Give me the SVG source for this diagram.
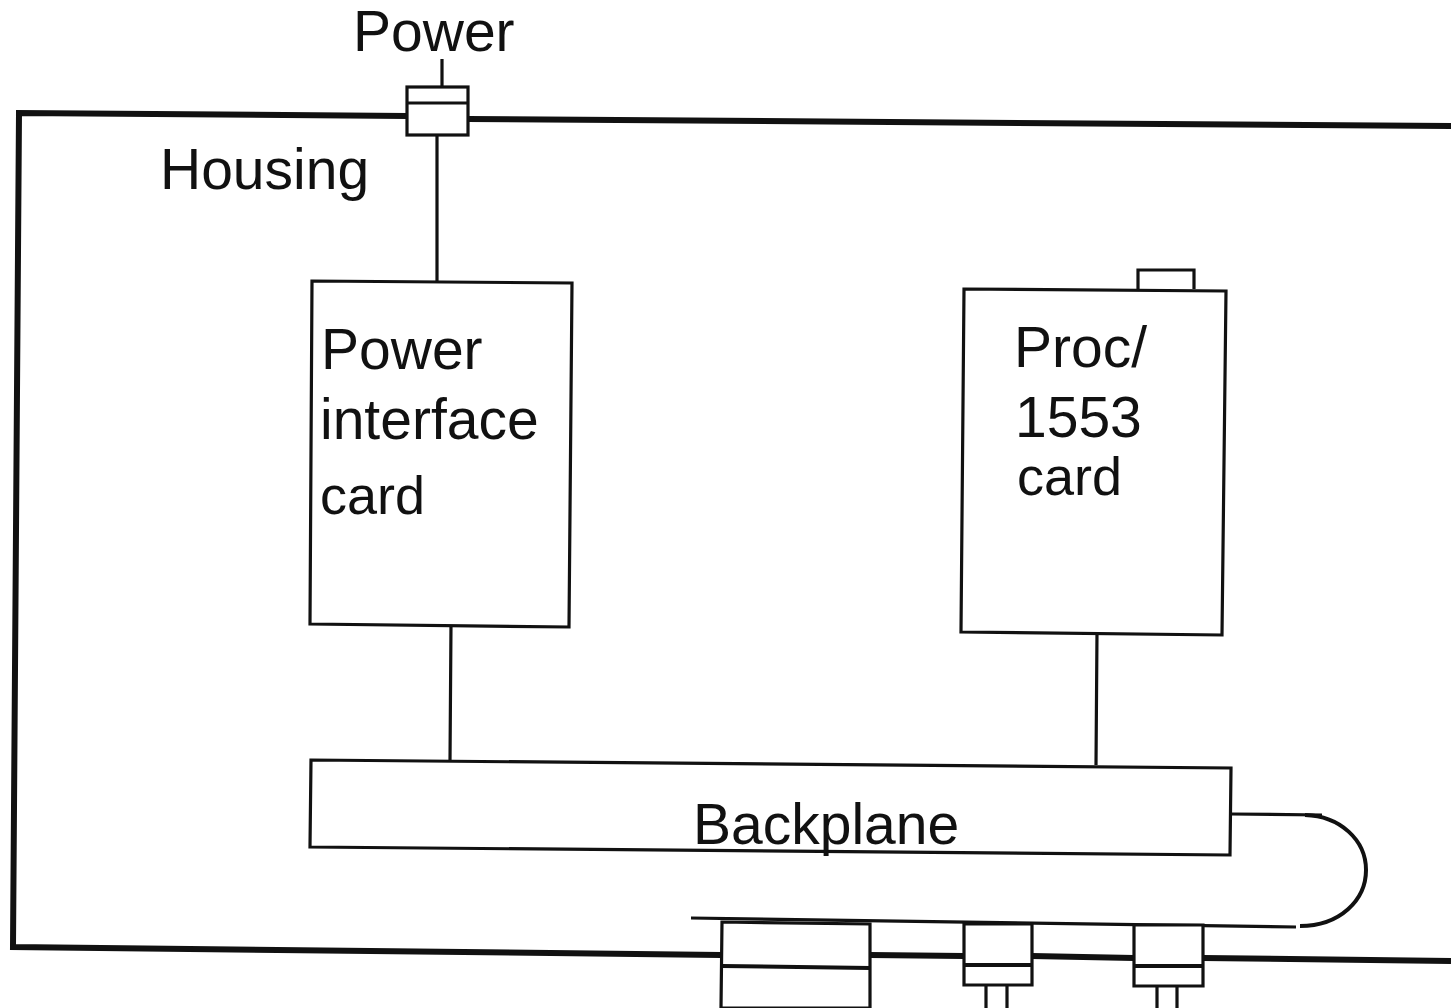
<svg xmlns="http://www.w3.org/2000/svg" width="1451" height="1008" viewBox="0 0 1451 1008">
<style>
.t{font-family:"Liberation Sans",Arial,sans-serif;font-size:57px;fill:#111}
.s{font-size:54px}
.b{fill:#fff;stroke:#111;stroke-width:3.2}
.l{fill:none;stroke:#111;stroke-width:3.2}
.d{fill:none;stroke:#111;stroke-width:4}
.h{fill:none;stroke:#111;stroke-width:6}
</style>
<rect width="1451" height="1008" fill="#fff"/>
<g id="housing">
<path class="h" d="M407 116L19 113L13 947L721 955M870 955L964 956M1032 956L1134 958M1203 958L1451 961M468 119L1451 126"/>
<text class="t" x="160" y="189">Housing</text>
</g>
<g id="connectors">
<path class="l" d="M442 59V87M437 136V283M451 624L450 761M1097 632L1096 765"/>
<path class="l" d="M1231 814L1322 815"/>
<path class="l" d="M691 918L1296 927"/>
<path class="d" d="M1300 926C1340 926 1366 900 1366 870C1366 840 1340 816 1305 815"/>
</g>
<g id="power-connector">
<text class="t" x="353" y="51">Power</text>
<rect class="b" x="407" y="87" width="61" height="48"/>
<path class="l" d="M407 103H468"/>
</g>
<g id="power-interface-card">
<path class="b" d="M312 281L572 283L569 627L310 624Z"/>
<text class="t" x="321" y="369">Power</text>
<text class="t" x="320" y="439">interface</text>
<text class="t s" x="320" y="514">card</text>
</g>
<g id="proc-card">
<path class="b" d="M1138 289V270H1194V289"/>
<path class="b" d="M964 289L1226 291L1222 635L961 632Z"/>
<text class="t" x="1014" y="367">Proc/</text>
<text class="t" x="1015" y="437">1553</text>
<text class="t s" x="1017" y="495">card</text>
</g>
<g id="backplane">
<path class="b" d="M311 760L1231 768L1230 855L310 847Z"/>
<text class="t" x="693" y="844">Backplane</text>
</g>
<g id="connector-1">
<path class="b" d="M722 922L870 924V1008H721Z"/>
<path class="d" d="M722 966L870 968"/>
</g>
<g id="connector-2">
<path class="b" d="M964 924H1032V985H964Z"/>
<path class="d" d="M964 965H1032"/>
<path class="l" d="M986 985V1008M1007 985V1008"/>
</g>
<g id="connector-3">
<path class="b" d="M1134 925H1203V986H1134Z"/>
<path class="d" d="M1134 966H1203"/>
<path class="l" d="M1157 986V1008M1177 985V1008"/>
</g>
</svg>
